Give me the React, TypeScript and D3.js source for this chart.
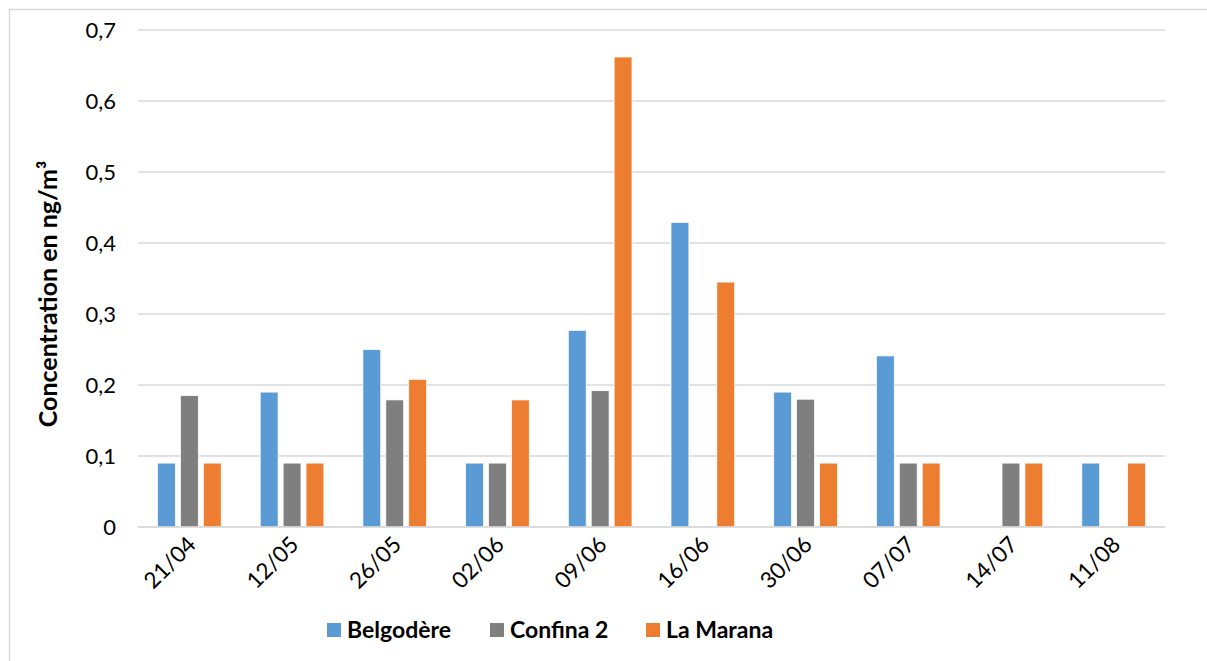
import React from "react";
import * as d3 from "d3";

const categories = ["21/04", "12/05", "26/05", "02/06", "09/06", "16/06", "30/06", "07/07", "14/07", "11/08"];
const seriesNames = ["Belgodère", "Confina 2", "La Marana"];
const belgodere: (number | null)[] = [0.09, 0.19, 0.25, 0.09, 0.277, 0.429, 0.19, 0.241, null, 0.09];
const confina2: (number | null)[] = [0.185, 0.09, 0.179, 0.09, 0.192, null, 0.18, 0.09, 0.09, null];
const laMarana: (number | null)[] = [0.09, 0.09, 0.208, 0.179, 0.662, 0.345, 0.09, 0.09, 0.09, 0.09];
const yTicks = [0, 0.1, 0.2, 0.3, 0.4, 0.5, 0.6, 0.7];
const colors = ["#5B9BD5", "#7F7F7F", "#ED7D31"];

const W = 1207;
const H = 661;
const FONT = "Lato, 'Open Sans', sans-serif";

export default function App() {
  const series = [belgodere, confina2, laMarana];
  const x0 = d3.scaleBand<string>().domain(categories).range([138, 1165]).paddingInner(0).paddingOuter(0);
  const y = d3.scaleLinear().domain([0, 0.7]).range([527, 30]);
  const bw = x0.bandwidth();
  const x1 = d3.scaleBand<string>().domain(seriesNames).range([bw * 0.19, bw * 0.81]).paddingInner(0.22).paddingOuter(0);
  const fmt = (v: number) => (v === 0 ? "0" : d3.format(".1f")(v).replace(".", ","));

  return (
    <svg width={W} height={H} style={{ position: "absolute", left: 0, top: 0 }}>
      <rect x={0} y={0} width={W} height={H} fill="#fff" />
      <rect x={9.5} y={9.5} width={W + 10} height={H + 10} fill="none" stroke="#D9D9D9" strokeWidth={1.5} />
      {yTicks.map((t) => (
        <g key={t}>
          <line x1={138} x2={1165} y1={y(t)} y2={y(t)} stroke="#D9D9D9" strokeWidth={1.5} />
          <text x={116} y={y(t)} dy="0.35em" textAnchor="end" fontFamily={FONT} fontSize={22} fill="#000">
            {fmt(t)}
          </text>
        </g>
      ))}
      {categories.map((c, i) => (
        <g key={c} transform={`translate(${x0(c)},0)`}>
          {series.map((s, j) => {
            const v = s[i];
            if (v == null) return null;
            return (
              <rect
                key={j}
                x={x1(seriesNames[j])}
                y={y(v)}
                width={x1.bandwidth()}
                height={y(0) - y(v)}
                fill={colors[j]}
                stroke="#fff"
                strokeWidth={0.75}
              />
            );
          })}
        </g>
      ))}
      <line x1={138} x2={1165} y1={y(0)} y2={y(0)} stroke="#D9D9D9" strokeWidth={1.5} />
      {categories.map((c) => {
        const cx = (x0(c) as number) + bw / 2;
        return (
          <text
            key={c}
            transform={`translate(${cx + 8},${546}) rotate(-45)`}
            textAnchor="end"
            fontFamily={FONT}
            fontSize={22.5}
            fill="#000"
          >
            {c}
          </text>
        );
      })}
      <text
        transform={`translate(57,${294}) rotate(-90)`}
        textAnchor="middle"
        fontFamily={FONT}
        fontWeight="bold"
        fontSize={25}
        fill="#000"
      >
        Concentration en ng/m³
      </text>
      {seriesNames.map((n, j) => {
        const lx = [327, 490, 646][j];
        return (
          <g key={n}>
            <rect x={lx} y={623} width={14} height={14} fill={colors[j]} />
            <text x={lx + 20} y={638} fontFamily={FONT} fontWeight="bold" fontSize={23} fill="#000">
              {n}
            </text>
          </g>
        );
      })}
    </svg>
  );
}
